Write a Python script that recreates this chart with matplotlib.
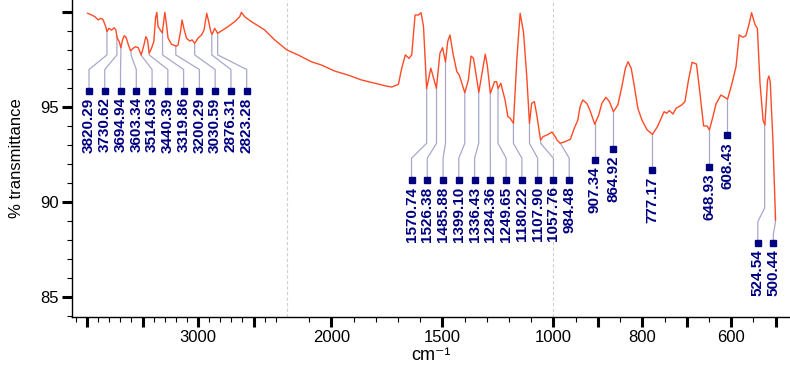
import numpy as np
import matplotlib
matplotlib.use("Agg")
import matplotlib.pyplot as plt
from matplotlib.ticker import FixedLocator, FixedFormatter

plt.rcParams["font.family"] = ["Liberation Sans", "DejaVu Sans"]

# spectrum (cm-1, % transmittance)
WAVENUMBER = [
    3994, 3958, 3929, 3899, 3875, 3854, 3832, 3820, 3803, 3778, 3755, 3740,
    3728, 3710, 3695, 3680, 3665, 3647, 3629, 3608, 3584, 3563, 3539, 3524,
    3512, 3491, 3470, 3455, 3440, 3419, 3398, 3383, 3371, 3360, 3335, 3322,
    3299, 3284, 3270, 3239, 3209, 3195, 3180, 3158, 3144, 3128, 3104, 3075,
    3054, 3030, 3000, 2969, 2946, 2922, 2904, 2886, 2873, 2850, 2824, 2790,
    2730, 2670, 2625, 2610, 2580, 2520, 2461, 2400, 2310, 2200, 2150, 2090,
    2045, 1985, 1925, 1864, 1804, 1752, 1728, 1698, 1683, 1667, 1650, 1638,
    1623, 1608, 1596, 1585, 1571, 1552, 1527, 1511, 1499, 1486, 1476, 1466,
    1451, 1435, 1424, 1399, 1383, 1371, 1360, 1336, 1307, 1298, 1284, 1265,
    1256, 1249, 1237, 1218, 1205, 1195, 1180, 1165, 1150, 1135, 1120, 1108,
    1098, 1086, 1075, 1058, 1046, 1023, 1007, 996, 992, 985, 974, 962,
    953, 945, 940, 934, 925, 918, 907, 898, 891, 882, 874, 865,
    855, 846, 838, 832, 825, 819, 810, 801, 789, 777, 766, 756,
    751, 745, 739, 731, 724, 711, 704, 696, 688, 678, 671, 662,
    654, 649, 641, 634, 623, 617, 608, 599, 589, 582, 574, 567,
    561, 554, 546, 541, 535, 528, 524, 518, 515, 512, 506, 500,
]
TRANSMITTANCE = [
    99.93, 99.84, 99.75, 99.58, 99.67, 99.58, 99.23, 98.97, 99.14, 99.05, 99.17, 99.05,
    98.62, 98.44, 98.12, 98.53, 98.75, 98.65, 98.30, 97.96, 98.09, 98.17, 98.12, 97.91,
    97.74, 98.17, 98.70, 98.53, 97.83, 98.09, 98.44, 99.67, 99.98, 99.23, 99.00, 98.90,
    99.98, 99.32, 98.62, 98.30, 98.23, 98.20, 98.26, 98.96, 99.58, 99.14, 98.62, 98.47,
    98.53, 98.35, 98.62, 98.79, 99.05, 99.93, 99.49, 98.97, 98.83, 99.14, 98.88, 99.00,
    99.23, 99.49, 99.75, 99.98, 99.75, 99.49, 99.28, 99.05, 98.53, 98.00, 97.74, 97.38,
    97.21, 96.89, 96.68, 96.42, 96.25, 96.10, 96.05, 96.19, 97.04, 97.74, 97.56, 97.74,
    99.84, 99.84, 99.96, 99.23, 95.97, 97.04, 95.98, 97.83, 98.12, 97.37, 98.44, 98.79,
    97.74, 96.86, 96.68, 95.75, 96.42, 97.68, 97.56, 95.77, 97.78, 97.21, 95.72, 96.33,
    96.33, 95.98, 96.25, 95.37, 94.49, 94.41, 94.14, 97.47, 99.93, 98.96, 96.59, 94.14,
    95.19, 95.28, 94.58, 93.26, 93.44, 93.56, 93.68, 93.44, 93.26, 93.09, 93.17, 93.30,
    93.88, 94.32, 95.02, 95.37, 95.19, 94.84, 94.09, 94.58, 95.19, 95.51, 95.28, 94.75,
    95.11, 96.07, 97.04, 97.38, 97.04, 96.25, 94.93, 94.32, 93.79, 93.56, 93.96, 94.49,
    94.75, 94.67, 94.81, 94.63, 94.93, 95.11, 95.28, 96.42, 97.35, 97.26, 95.89, 94.00,
    94.00, 93.79, 94.49, 95.16, 95.63, 95.54, 95.41, 96.16, 97.12, 98.79, 98.67, 98.74,
    99.23, 99.96, 99.32, 99.14, 96.25, 94.28, 94.05, 96.42, 96.63, 96.33, 93.26, 89.05,
]

HIGH_PEAKS = [3820.29, 3730.62, 3694.94, 3603.34, 3514.63, 3440.39,
              3319.86, 3200.29, 3030.59, 2876.31, 2823.28]
MID_PEAKS = [1570.74, 1526.38, 1485.88, 1399.10, 1336.43, 1284.36,
             1249.65, 1180.22, 1107.90, 1057.76, 984.48]
LOW_PEAKS = [907.34, 864.92, 777.17, 648.93, 608.43, 524.54, 500.44]

X_MAJOR = [4000, 3500, 3000, 2500, 2000, 1500, 1000, 900, 800, 700, 600, 500]
X_LABELLED = [3000, 2000, 1500, 1000, 800, 600]
Y_MAJOR = [85, 90, 95, 100]
Y_LABELS = ["85", "90", "95", ""]

LINE_COLOR = "#ff4a26"
LEADER_COLOR = "#a8a8cc"
LABEL_COLOR = "#000080"


def forward(wn):
    wn = np.asarray(wn, dtype=float)
    return np.where(wn >= 2200, wn, np.where(wn >= 1000, 2 * wn - 2200, 4 * wn - 4200))


def inverse(u):
    u = np.asarray(u, dtype=float)
    return np.where(u >= 2200, u, np.where(u >= -200, (u + 2200) / 2, (u + 4200) / 4))


def spectrum_at(wn):
    return float(np.interp(wn, WAVENUMBER[::-1], TRANSMITTANCE[::-1]))


def draw_label(ax, peak, label_x, square_y, kink=None):
    top = spectrum_at(peak)
    if kink is None:
        xs = [peak, peak]
        ys = [top, square_y]
    else:
        y_hi, y_lo = kink
        xs = [peak, peak, label_x, label_x]
        ys = [top, y_hi, y_lo, square_y]
    ax.plot(xs, ys, color=LEADER_COLOR, lw=0.9, zorder=2)
    ax.plot([label_x], [square_y], marker="s", ms=4.6, color=LABEL_COLOR,
            ls="none", zorder=4)
    ax.text(label_x, square_y - 0.35, "{:.2f}".format(peak), rotation=90,
            ha="center", va="top", fontsize=11, fontweight="bold",
            color=LABEL_COLOR, zorder=4)


def main():
    fig = plt.figure(figsize=(7.9, 3.65), dpi=100)
    ax = fig.add_axes([72 / 790, 48.3 / 365, 718 / 790, 316.7 / 365])
    ax.set_xscale("function", functions=(forward, inverse))
    ax.set_xlim(4135, 467.5)
    ax.set_ylim(83.96, 100.63)

    for wn in (2200, 1000):
        ax.axvline(wn, color="#d0d0d0", lw=0.8, ls=(0, (3, 2)), zorder=1)

    ax.plot(WAVENUMBER, TRANSMITTANCE, color=LINE_COLOR, lw=1.0, zorder=3)

    # evenly spread label groups
    step = 142
    for i, peak in enumerate(HIGH_PEAKS):
        lx = float(inverse(forward(3982) - step * i))
        draw_label(ax, peak, lx, 95.86, kink=(97.74, 96.97))
    for i, peak in enumerate(MID_PEAKS):
        lx = float(inverse(forward(1639) - step * i))
        draw_label(ax, peak, lx, 91.16, kink=(93.09, 92.3))

    low_square_y = [92.2, 92.8, 91.7, 91.83, 93.5, 87.84, 87.84]
    low_label_x = [907.34, 864.92, 777.17, 648.93, 608.43, 540, 505]
    for peak, lx, sy in zip(LOW_PEAKS, low_label_x, low_square_y):
        if peak == 524.54:
            draw_label(ax, peak, lx, sy, kink=(89.68, 88.96))
        elif peak == 500.44:
            draw_label(ax, peak, lx, sy, kink=(88.9, 88.3))
        else:
            draw_label(ax, peak, lx, sy)

    minor = [w for w in list(range(4100, 2200, -100)) + list(range(2100, 1000, -100))
             + list(range(950, 450, -50)) if w not in X_MAJOR]
    ax.xaxis.set_major_locator(FixedLocator(X_MAJOR))
    ax.xaxis.set_major_formatter(FixedFormatter(
        [str(w) if w in X_LABELLED else "" for w in X_MAJOR]))
    ax.xaxis.set_minor_locator(FixedLocator(minor))
    ax.yaxis.set_major_locator(FixedLocator(Y_MAJOR))
    ax.yaxis.set_major_formatter(FixedFormatter(Y_LABELS))
    ax.yaxis.set_minor_locator(FixedLocator(list(range(84, 101))))

    ax.tick_params(which="major", direction="out", length=7.5, width=2.2,
                   labelsize=12, pad=2)
    ax.tick_params(which="minor", direction="out", length=3.5, width=0.8)
    for side in ("top", "right"):
        ax.spines[side].set_visible(False)
    for side in ("left", "bottom"):
        ax.spines[side].set_linewidth(1.0)

    ax.set_xlabel("cm\u207b\u00b9", fontsize=13, va="bottom")
    ax.xaxis.set_label_coords(431 / 790, 0.5 / 365, transform=fig.transFigure)
    ax.set_ylabel("% transmittance", fontsize=12, labelpad=12)

    fig.savefig("out.png", dpi=100)
    plt.close(fig)


if __name__ == "__main__":
    main()
